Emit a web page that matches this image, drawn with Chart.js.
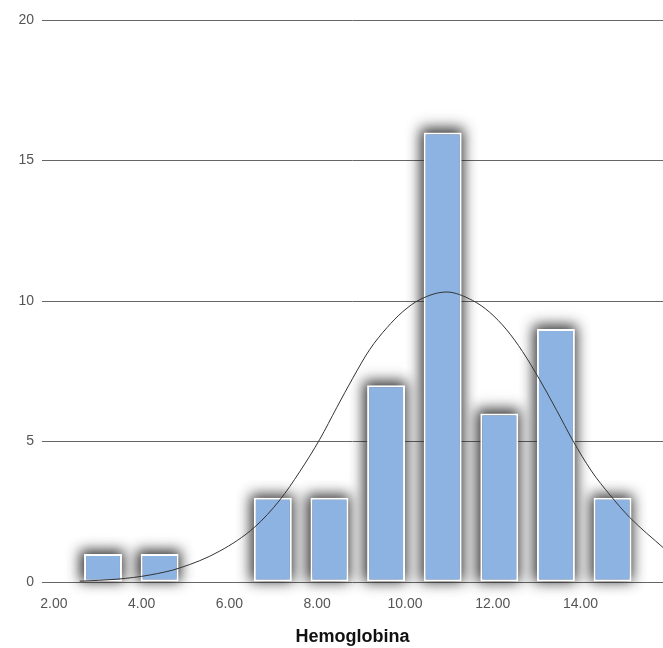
<!DOCTYPE html>
<html>
<head>
<meta charset="utf-8">
<script src="https://cdn.jsdelivr.net/npm/chart.js@4/dist/chart.umd.min.js"></script>
<style>
  html, body { margin: 0; padding: 0; background: #fff; }
  #wrap { width: 663px; height: 648px; }
</style>
</head>
<body>
<div id="wrap"><canvas id="histChart"></canvas></div>
<script>
// Histograma de Hemoglobina (contagem por classe) + curva normal
const binCenters = [3.12, 4.41, 5.70, 6.99, 8.28, 9.57, 10.86, 12.15, 13.44, 14.73];
const binCounts = [1, 1, 0, 3, 3, 7, 16, 6, 9, 3];

// curva normal (x, frequência)
const curveX = [2.59, 3.44, 4.19, 4.87, 5.78, 6.58, 7.15, 7.60, 8.06, 8.45, 8.81, 9.20, 9.59, 9.95, 10.34, 10.95, 11.54, 11.93, 12.32, 12.68, 13.07, 13.46, 13.82, 14.25, 14.67, 15.12, 15.90];
const curveY = [0.03, 0.10, 0.25, 0.50, 1.10, 1.96, 2.92, 3.92, 5.08, 6.22, 7.25, 8.28, 9.05, 9.62, 10.05, 10.32, 10.02, 9.60, 8.97, 8.20, 7.20, 6.10, 5.05, 3.95, 3.10, 2.30, 1.20];

const yTicks = [0, 5, 10, 15, 20];
const xTitle = 'Hemoglobina';

// sombra cinza desfocada atrás de cada barra
const barShadow = {
    id: 'barShadow',
    beforeDatasetDraw(chart, args) {
        if (args.meta.type !== 'bar') return;
        const ctx = chart.ctx;
        const far = 10000;
        ctx.save();
        ctx.fillStyle = '#000';
        ctx.shadowColor = 'rgba(30, 30, 30, 0.9)';
        ctx.shadowBlur = 13;
        ctx.shadowOffsetX = -far;
        ctx.shadowOffsetY = 0;
        args.meta.data.forEach(bar => {
            const p = bar.getProps(['x', 'y', 'base', 'width'], true);
            const h = p.base - p.y;
            if (h <= 0) return;
            ctx.fillRect(p.x - p.width / 2 - 4 + far, p.y - 4, p.width + 6, h + 4);
        });
        ctx.restore();
    }
};

new Chart(document.getElementById('histChart').getContext('2d'), {
    data: {
        datasets: [
            {
                type: 'line',
                data: curveX.map((x, i) => ({ x: x, y: curveY[i] })),
                borderColor: '#333',
                borderWidth: 1,
                pointRadius: 0,
                cubicInterpolationMode: 'monotone',
                fill: false,
                order: 0
            },
            {
                type: 'bar',
                data: binCenters.map((x, i) => ({ x: x, y: binCounts[i] })),
                backgroundColor: '#8db3e2',
                borderColor: '#ffffff',
                borderWidth: 2,
                borderSkipped: false,
                barPercentage: 0.67,
                categoryPercentage: 1,
                order: 1
            }
        ]
    },
    options: {
        responsive: true,
        maintainAspectRatio: false,
        animation: false,
        layout: { padding: { top: 20, right: 0, left: 0, bottom: 0 } },
        plugins: {
            legend: { display: false },
            tooltip: { enabled: false }
        },
        scales: {
            x: {
                type: 'linear',
                min: 1.73,
                max: 15.88,
                offset: false,
                grid: { display: false },
                border: { display: false },
                ticks: {
                    stepSize: 2,
                    includeBounds: false,
                    maxRotation: 0,
                    padding: 6,
                    color: '#555',
                    font: { family: 'Liberation Sans, Arial, sans-serif', size: 14 },
                    callback: v => Number(v).toFixed(2)
                },
                title: {
                    display: true,
                    text: xTitle,
                    color: '#111',
                    padding: { top: 10, bottom: 0 },
                    font: { family: 'Liberation Sans, Arial, sans-serif', size: 18, weight: 'bold' }
                },
                afterFit: s => { s.height = 66; }
            },
            y: {
                min: 0,
                max: 20,
                afterBuildTicks: s => { s.ticks = yTicks.map(v => ({ value: v })); },
                grid: { color: '#666', lineWidth: 1, drawTicks: false },
                border: { display: false },
                ticks: {
                    padding: 8,
                    color: '#555',
                    font: { family: 'Liberation Sans, Arial, sans-serif', size: 14 }
                },
                afterFit: s => { s.width = 42; }
            }
        }
    },
    plugins: [barShadow]
});
</script>
</body>
</html>
